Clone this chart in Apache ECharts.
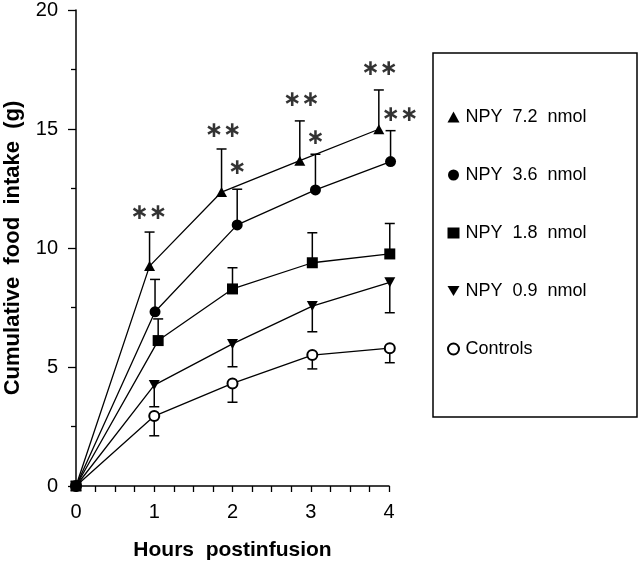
<!DOCTYPE html>
<html><head><meta charset="utf-8">
<script src="https://cdn.jsdelivr.net/npm/echarts@6/dist/echarts.min.js"></script>
<style>html,body{margin:0;padding:0;background:#fff}#c{width:640px;height:565px}</style>
</head><body><div id="c"></div>
<script>
// Series names (legend order)
const names = ['NPY  7.2  nmol', 'NPY  3.6  nmol', 'NPY  1.8  nmol', 'NPY  0.9  nmol', 'Controls'];
// x positions as plotted (hours)
const xTri  = [0, 0.94, 1.86, 2.86, 3.87];
const xCirc = [0, 1.01, 2.06, 3.06, 4.02];
const xSq   = [0, 1.05, 2.00, 3.02, 4.01];
const xDown = [0, 1.00, 2.00, 3.02, 4.01];
const xCtrl = [0, 1.00, 2.00, 3.02, 4.01];
// mean cumulative intake (g)
const yTri  = [0, 9.24, 12.35, 13.67, 14.99];
const yCirc = [0, 7.32, 10.97, 12.44, 13.63];
const ySq   = [0, 6.11, 8.28, 9.38, 9.75];
const yDown = [0, 4.24, 5.97, 7.56, 8.56];
const yCtrl = [0, 2.94, 4.31, 5.50, 5.79];
// error bar end (g)
const eTri  = [null, 10.67, 14.16, 15.34, 16.64];
const eCirc = [null, 8.68, 12.47, 13.94, 14.93];
const eSq   = [null, 7.02, 9.17, 10.64, 11.03];
const eDown = [null, 3.33, 5.01, 6.48, 7.28];
const eCtrl = [null, 2.11, 3.52, 4.92, 5.18];
// significance marks
const starX = [0.93, 1.88, 2.06, 2.88, 3.06, 3.88, 4.14];
const starY = [11.47, 14.89, 13.35, 16.22, 14.61, 17.51, 15.59];
const starText = ['∗∗', '∗∗', '∗', '∗∗', '∗', '∗∗', '∗∗'];
// axis ticks
const xTicks = [0, 1, 2, 3, 4];
const yTicks = [0, 5, 10, 15, 20];

const downTri = 'path://M0,0L20,0L10,17Z';
const symbols = ['triangle', 'circle', 'rect', downTri, 'emptyCircle'];
const xs = [xTri, xCirc, xSq, xDown, xCtrl];
const ys = [yTri, yCirc, ySq, yDown, yCtrl];
const es = [eTri, eCirc, eSq, eDown, eCtrl];
const sizes = [[11, 10], 11, 11, [11, 10], 10];
const FONT = 'Liberation Sans';

const series = [];
// error bars
for (let s = 0; s < 5; s++) {
  const d = [];
  for (let i = 0; i < xs[s].length; i++) if (es[s][i] != null) d.push([xs[s][i], ys[s][i], es[s][i]]);
  series.push({
    type: 'custom', silent: true, z: 1, clip: false,
    data: d,
    renderItem: function (params, api) {
      const p0 = api.coord([api.value(0), api.value(1)]);
      const p1 = api.coord([api.value(0), api.value(2)]);
      const w = 5;
      return { type: 'group', children: [
        { type: 'line', shape: { x1: p0[0], y1: p0[1], x2: p1[0], y2: p1[1] }, style: { stroke: '#000', lineWidth: 1.5 } },
        { type: 'line', shape: { x1: p1[0] - w, y1: p1[1], x2: p1[0] + w, y2: p1[1] }, style: { stroke: '#000', lineWidth: 1.5 } }
      ]};
    }
  });
}
// lines
for (let s = 0; s < 5; s++) {
  series.push({
    type: 'line', name: names[s], clip: false,
    z: s === 2 ? 4 : 3,
    data: xs[s].map((x, i) => [x, ys[s][i]]),
    symbol: symbols[s], symbolSize: sizes[s], showAllSymbol: true,
    lineStyle: { color: '#000', width: 1.3 },
    itemStyle: s === 4 ? { color: '#000', borderColor: '#000', borderWidth: 1.3 } : { color: '#000' },
    emphasis: { disabled: true },
    animation: false
  });
}
// stars
series.push({
  type: 'scatter', silent: true, z: 5, symbolSize: 0, clip: false,
  data: starX.map((x, i) => ({ value: [x, starY[i]], name: starText[i] })),
  label: { show: true, position: 'inside', formatter: p => p.name, fontFamily: 'DejaVu Sans', fontWeight: 'bold', fontSize: 22, color: '#000' }
});

const chart = echarts.init(document.getElementById('c'), null, { renderer: 'canvas' });
chart.setOption({
  animation: false,
  backgroundColor: '#fff',
  grid: { left: 76, right: 251, top: 10, bottom: 79, containLabel: false, outerBoundsMode: 'none' },
  xAxis: {
    type: 'value', min: xTicks[0], max: xTicks[xTicks.length - 1], interval: 1,
    name: 'Hours  postinfusion', nameLocation: 'middle', nameGap: 54,
    nameTextStyle: { fontFamily: FONT, fontWeight: 'bold', fontSize: 21, color: '#000' },
    axisLine: { lineStyle: { color: '#000', width: 1.5 } },
    axisTick: { length: 6, lineStyle: { color: '#000', width: 1.3 } },
    minorTick: { show: true, splitNumber: 4, length: 6, lineStyle: { color: '#000', width: 1.3 } },
    axisLabel: { margin: 16, fontFamily: FONT, fontSize: 20, color: '#000' },
    splitLine: { show: false }
  },
  yAxis: {
    type: 'value', min: yTicks[0], max: yTicks[yTicks.length - 1], interval: 5,
    name: 'Cumulative  food  intake  (g)', nameLocation: 'middle', nameGap: 52,
    nameTextStyle: { fontFamily: FONT, fontWeight: 'bold', fontSize: 22, color: '#000' },
    axisLine: { lineStyle: { color: '#000', width: 1.5 } },
    axisTick: { length: 8, lineStyle: { color: '#000', width: 1.3 } },
    minorTick: { show: true, splitNumber: 2, length: 5, lineStyle: { color: '#000', width: 1.3 } },
    axisLabel: { margin: 18, fontFamily: FONT, fontSize: 20, color: '#000' },
    splitLine: { show: false }
  },
  legend: {
    orient: 'vertical', left: 442, top: 103,
    itemWidth: 12, itemHeight: 11, itemGap: 40,
    selectedMode: false,
    textStyle: { fontFamily: FONT, fontSize: 18, color: '#000', lineHeight: 18, padding: [0, 0, 0, 1] },
    data: names.map((n, i) => ({ name: n, icon: symbols[i] }))
  },
  graphic: [{
    type: 'rect', shape: { x: 433, y: 53, width: 204, height: 364 },
    style: { fill: 'none', stroke: '#000', lineWidth: 1.5 }, silent: true
  }],
  series: series
});
</script></body></html>
